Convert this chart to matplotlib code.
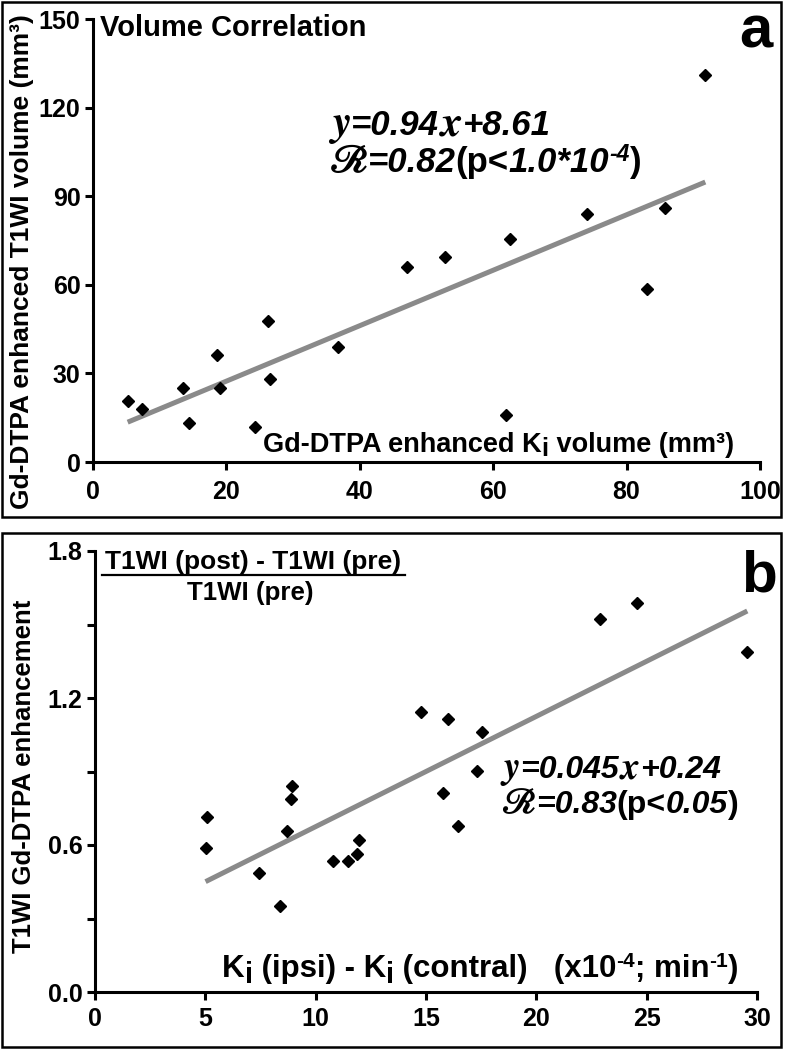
import matplotlib
matplotlib.use("Agg")
import matplotlib.pyplot as plt
from matplotlib.patches import Rectangle
from matplotlib.lines import Line2D
from matplotlib.transforms import offset_copy
import numpy as np

plt.rcParams['font.family'] = ['Liberation Sans', 'DejaVu Sans']
plt.rcParams['font.weight'] = 'bold'

# panel a: volume correlation (mm^3)
a_ki_vol = [5.2, 7.3, 13.5, 14.4, 18.6, 19.0, 24.3, 26.2, 26.5, 36.8,
            47.1, 52.8, 62.5, 61.9, 74.0, 83.0, 85.8, 91.8]
a_t1_vol = [20.8, 17.9, 25.2, 13.1, 36.3, 25.0, 12.0, 47.8, 28.0, 39.1,
            66.2, 69.6, 75.5, 15.9, 84.1, 58.5, 86.0, 131.2]
a_slope, a_icpt = 0.94, 8.61
a_xticks = [0, 20, 40, 60, 80, 100]
a_yticks = [0, 30, 60, 90, 120, 150]

# panel b: Ki difference vs T1WI enhancement
b_ki_diff = [5.09, 5.01, 7.45, 8.38, 8.69, 8.88, 8.91, 10.80, 11.45, 11.86,
             11.98, 14.76, 15.98, 17.52, 17.32, 15.78, 16.46, 22.88, 24.54, 29.56]
b_enh = [0.716, 0.586, 0.484, 0.351, 0.657, 0.786, 0.842, 0.536, 0.536, 0.562,
         0.620, 1.144, 1.113, 1.062, 0.903, 0.811, 0.679, 1.521, 1.586, 1.389]
b_slope, b_icpt = 0.045, 0.225
b_xticks = [0, 5, 10, 15, 20, 25, 30]
b_yticks = [0.0, 0.6, 1.2, 1.8]
b_yminor = [0.3, 0.9, 1.5]

W, H = 785, 1050
fig = plt.figure(figsize=(W / 100, H / 100), dpi=100)
renderer = fig.canvas.get_renderer()


def px(x, y):
    return x / W, 1 - y / H


def style_axes(ax):
    for s in ['top', 'right']:
        ax.spines[s].set_visible(False)
    for s in ['left', 'bottom']:
        ax.spines[s].set_linewidth(2.2)
    ax.tick_params(which='both', direction='out', length=6, width=2.2,
                   labelsize=18, pad=3)
    for lab in ax.get_xticklabels() + ax.get_yticklabels():
        lab.set_fontweight('bold')


def chain(ax, x, y, pieces):
    # pieces: (text, dy in px, size, style)
    dx = 0
    for s, dy, size, st in pieces:
        tr = offset_copy(ax.transData, fig=fig, x=dx, y=dy, units='dots')
        t = ax.text(x, y, s, transform=tr, fontsize=size, fontweight='bold',
                    fontstyle=st, va='baseline', ha='left',
                    math_fontfamily='stix')
        dx += t.get_window_extent(renderer).width


# ---------------- panel a ----------------
l, b = px(93, 462)
ax1 = fig.add_axes([l, b, 667 / W, 442.5 / H])
ax1.set_xlim(0, 100)
ax1.set_ylim(0, 150)
ax1.set_xticks(a_xticks)
ax1.set_yticks(a_yticks)
style_axes(ax1)
ax1.tick_params(axis='x', pad=7)
xa = np.array([min(a_ki_vol), max(a_ki_vol)])
ax1.plot(xa, a_slope * xa + a_icpt, color='#8a8a8a', lw=3.6, solid_capstyle='butt')
ax1.plot(a_ki_vol, a_t1_vol, 'D', color='black', ms=6.3, clip_on=False)

ax1.text(1.0, 144.5, 'Volume Correlation', fontsize=21, fontweight='bold',
         va='baseline')
chain(ax1, 35.2, 110.8, [(r'$y$', 0, 31, 'normal'),
                         ('=0.94', 0, 25, 'italic'),
                         (r'$x$', 0, 31, 'normal'),
                         ('+8.61', 0, 25, 'italic')])
chain(ax1, 35.2, 98.3, [(r'$\mathscr{R}$', 0, 28, 'normal'),
                        ('=0.82', 0, 25, 'italic'),
                        ('(p<', 0, 25, 'normal'),
                        ('1.0*10', 0, 25, 'italic'),
                        ('-4', 11, 16.5, 'italic'),
                        (')', 0, 25, 'normal')])
chain(ax1, 25.5, 3.4, [('Gd-DTPA enhanced K', 0, 19.5, 'normal'),
                       ('i', -4, 18.5, 'normal'),
                       (' volume (mm³)', 0, 19.5, 'normal')])
fig.text(*px(22, 262), 'Gd-DTPA enhanced T1WI volume (mm³)', rotation=90,
         ha='center', va='center', fontsize=19, fontweight='bold')
fig.text(*px(739, 48), 'a', fontsize=43, fontweight='bold', va='baseline')

# ---------------- panel b ----------------
l, b = px(95, 992)
ax2 = fig.add_axes([l, b, 662 / W, 441 / H])
ax2.set_xlim(0, 30)
ax2.set_ylim(0, 1.8)
ax2.set_xticks(b_xticks)
ax2.set_yticks(b_yticks)
ax2.set_yticklabels([f'{v:.1f}' for v in b_yticks])
ax2.set_yticks(b_yminor, minor=True)
style_axes(ax2)
ax2.tick_params(axis='x', pad=5)
xb = np.array([min(b_ki_diff), max(b_ki_diff)])
ax2.plot(xb, b_slope * xb + b_icpt, color='#8a8a8a', lw=3.6, solid_capstyle='butt')
ax2.plot(b_ki_diff, b_enh, 'D', color='black', ms=6.3, clip_on=False)

chain(ax2, 18.35, 0.872, [(r'$y$', 0, 27, 'normal'),
                          ('=0.045', 0, 23, 'italic'),
                          (r'$x$', 0, 27, 'normal'),
                          ('+0.24', 0, 23, 'italic')])
chain(ax2, 18.35, 0.731, [(r'$\mathscr{R}$', 0, 25, 'normal'),
                          ('=0.83', 0, 23, 'italic'),
                          ('(p<', 0, 23, 'normal'),
                          ('0.05', 0, 23, 'italic'),
                          (')', 0, 23, 'normal')])
chain(ax2, 5.75, 0.061, [('K', 0, 22.5, 'normal'),
                         ('i', -6, 21, 'normal'),
                         (' (ipsi) - K', 0, 22.5, 'normal'),
                         ('i', -6, 21, 'normal'),
                         (' (contral)', 0, 22.5, 'normal'),
                         ('   (x10', 0, 22.5, 'normal'),
                         ('-4', 10, 15, 'normal'),
                         ('; min', 0, 22.5, 'normal'),
                         ('-1', 10, 15, 'normal'),
                         (')', 0, 22.5, 'normal')])
fig.text(*px(24, 776), 'T1WI Gd-DTPA enhancement', rotation=90,
         ha='center', va='center', fontsize=18.5, fontweight='bold')
fig.text(*px(253, 569), 'T1WI (post) - T1WI (pre)', ha='center', va='baseline',
         fontsize=19, fontweight='bold')
fig.text(*px(250, 600), 'T1WI (pre)', ha='center', va='baseline',
         fontsize=18.6, fontweight='bold')
x0, y0 = px(102, 575)
x1, _ = px(405, 575)
fig.add_artist(Line2D([x0, x1], [y0, y0], color='black', lw=1.6,
                      transform=fig.transFigure))
fig.text(*px(741, 591), 'b', fontsize=42, fontweight='bold', va='baseline')

# panel frames
for top, bot in [(2, 517), (533, 1047)]:
    x0, y0 = px(2, bot)
    fig.add_artist(Rectangle((x0, y0), 779 / W, (bot - top) / H,
                             transform=fig.transFigure, fill=False,
                             edgecolor='black', lw=1.8))

fig.savefig('out.png', dpi=100)
